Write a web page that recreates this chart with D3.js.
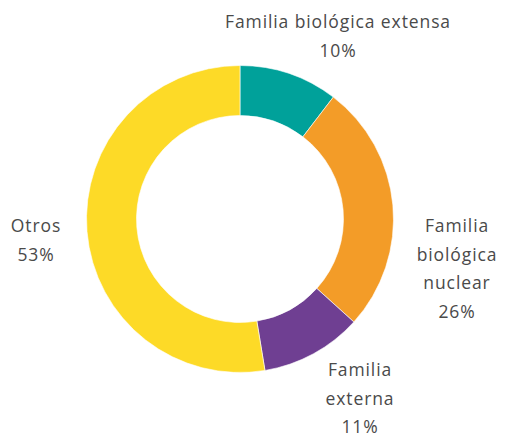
<!DOCTYPE html>
<html>
<head>
<meta charset="utf-8">
<script src="https://cdn.jsdelivr.net/npm/d3@7"></script>
<style>
  body { margin: 0; background: #fff; }
  text { font-family: "Open Sans", "Noto Sans", sans-serif; fill: #4a4a4a; }
</style>
</head>
<body>
<svg id="chart" width="505" height="438"></svg>
<script>
const categories = ["Familia biológica extensa", "Familia biológica nuclear", "Familia externa", "Otros"];
const values = [10.4, 26.3, 10.7, 52.6];
const colors = ["#00A19A", "#F39C28", "#6F3F92", "#FDDA27"];
// how each label wraps
const labelLines = [["Familia biológica extensa"], ["Familia", "biológica", "nuclear"], ["Familia", "externa"], ["Otros"]];

const width = 505, height = 438;
const cx = 240, cy = 219;
const outerR = 153.5, innerR = 103.5;

const svg = d3.select("#chart");
const g = svg.append("g").attr("transform", `translate(${cx},${cy})`);

const pie = d3.pie().sort(null).value(d => d);
const arcs = pie(values);

const arc = d3.arc().innerRadius(innerR).outerRadius(outerR);

g.selectAll("path")
  .data(arcs)
  .join("path")
  .attr("d", arc)
  .attr("fill", (d, i) => colors[i])
  .attr("stroke", "#fff")
  .attr("stroke-width", 0.6);

// label anchors (centre of text block, first baseline), relative to centre
const labelPos = [[98, -191], [217, 13], [120, 157], [-204, 13]];
const lineH = 28.5;

const labels = g.selectAll("g.label")
  .data(arcs)
  .join("g")
  .attr("class", "label")
  .attr("transform", (d, i) => `translate(${labelPos[i][0]},${labelPos[i][1]})`);

labels.each(function(d, i) {
  const lines = labelLines[i].concat([Math.round(d.data) + "%"]);
  d3.select(this).selectAll("text")
    .data(lines)
    .join("text")
    .attr("text-anchor", "middle")
    .attr("y", (t, j) => j * lineH)
    .attr("font-size", 17.5)
    .attr("letter-spacing", 0.9)
    .text(t => t);
});
</script>
</body>
</html>
